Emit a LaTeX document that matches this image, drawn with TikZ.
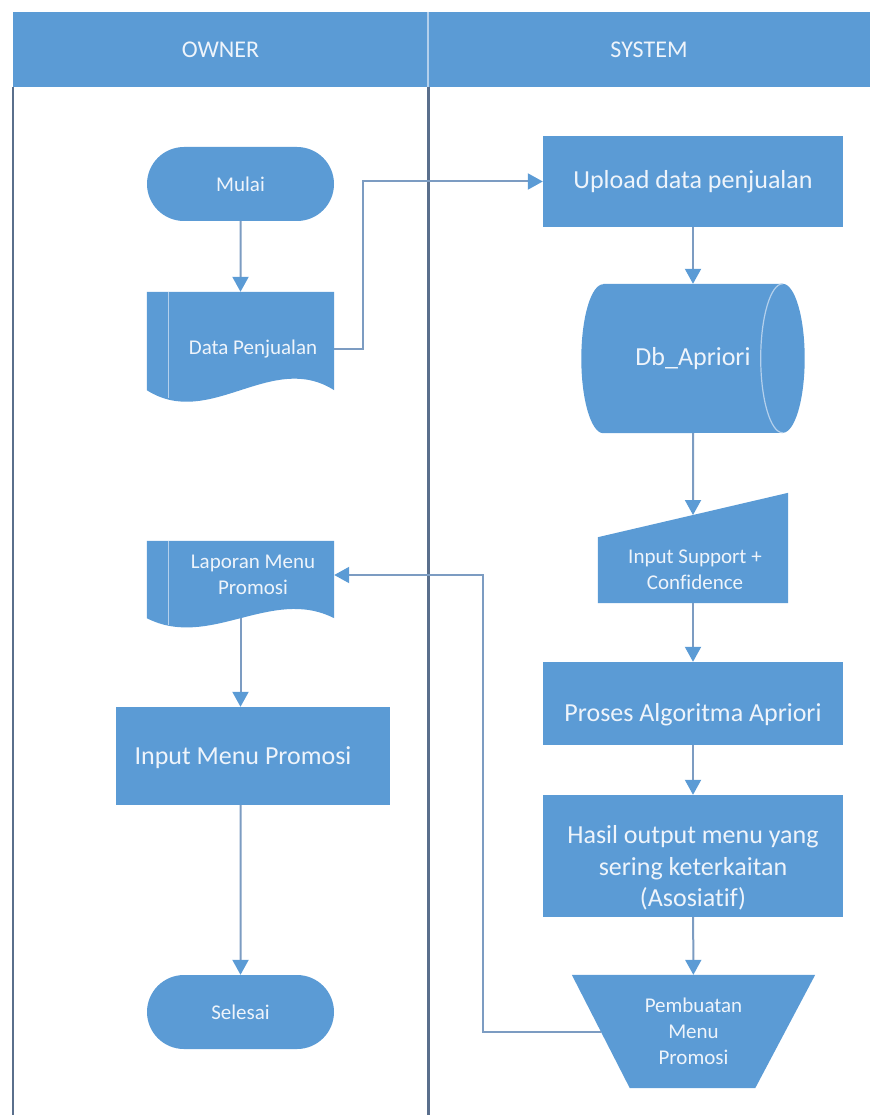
\documentclass[tikz,border=0pt]{standalone}
\usepackage{fontspec}
\setmainfont{Carlito}[Ligatures=NoCommon]
\usetikzlibrary{arrows.meta,calc,shapes.misc}

\definecolor{shapeblue}{HTML}{5B9BD5}
\definecolor{linkgrey}{HTML}{7C9CC2}
\definecolor{lanegrey}{HTML}{5A6F8C}
\definecolor{textwhite}{HTML}{EEF4FB}
\definecolor{stripeblue}{HTML}{B4D0EC}

\pgfdeclarelayer{shapes}
\pgfsetlayers{shapes,main}

% document symbol with a wavy lower edge and a left stripe, drawn around a frame node
\newcommand\docsymbol[2]{%
  \fill[shapeblue] (#1.north west) -- (#1.north east) -- (#1.south east)
    .. controls ($(#1.south east)+(-63,-#2)$) and ($(#1.south west)+(63,#2)$) .. (#1.south west) -- cycle;
  \draw[stripe] ($(#1.north west)+(22,0)$) -- ($(#1.south west)+(22,0.2*#2)$);
}

\begin{document}
\begin{tikzpicture}[x=1pt,y=-1pt,
  header/.style={rectangle, fill=shapeblue, inner sep=0pt, text=textwhite,
    font=\fontsize{24}{28}\selectfont},
  frame/.style={rectangle, inner sep=0pt},
  procbox/.style={rectangle, fill=shapeblue, inner sep=0pt, text=textwhite,
    align=center, font=\fontsize{26}{31.5}\selectfont},
  term/.style={rounded rectangle, fill=shapeblue, inner sep=0pt,
    minimum width=187pt, minimum height=74pt, text=textwhite,
    font=\fontsize{21}{26}\selectfont},
  biglbl/.style={text=textwhite, align=center, inner sep=0pt,
    font=\fontsize{26}{31.5}\selectfont},
  smalllbl/.style={text=textwhite, align=center, inner sep=0pt,
    font=\fontsize{21}{26}\selectfont},
  link/.style={draw=linkgrey, line width=2pt,
    -{Triangle[width=16pt,length=15pt,color=shapeblue]}},
  lane/.style={draw=lanegrey, line width=2.5pt},
  stripe/.style={draw=stripeblue, line width=1.2pt},
]
\useasboundingbox (0,0) rectangle (870,1115);

% swimlane headers and lane borders
\node[header, minimum width=415pt, minimum height=75pt] (hOwner) at (220.5,49.5) {OWNER};
\node[header, minimum width=442pt, minimum height=75pt] (hSystem) at (649,49.5) {SYSTEM};
\draw[stripeblue, line width=1.5pt] (hOwner.north east) -- (hOwner.south east);
\draw[lane] (hOwner.south west) -- (hOwner.south west |- 0,1115);
\draw[lane, line width=3pt] (hOwner.south east) -- (hOwner.south east |- 0,1115);

% owner lane
\node[term] (mulai) at (240.5,184) {Mulai};
\node[frame, minimum width=187pt, minimum height=98pt] (datap) at (240.5,341) {};
\node[smalllbl] (datapt) at (253,349) {Data Penjualan};
\node[frame, minimum width=187pt, minimum height=77pt] (lap) at (240.5,579.5) {};
\node[smalllbl] (lapt) at (253,575) {Laporan Menu\\Promosi};
\node[procbox, minimum width=274pt, minimum height=98pt] (inmenu) at (253,756) {};
\node[biglbl] (inmenut) at (243,758) {Input Menu Promosi};
\node[term] (selesai) at (240.5,1012) {Selesai};

% system lane
\node[procbox, minimum width=300pt, minimum height=91pt] (upload) at (693,181.5) {Upload data penjualan};
\node[frame, minimum width=223pt, minimum height=149pt, biglbl] (db) at (693,358.5) {Db\_Apriori};
\node[frame, minimum width=190pt, minimum height=110pt] (minp) at (693,548) {};
\coordinate (minpTL) at ($(minp.south west)+(0,-66)$);
\node[smalllbl] (minpt) at (695,570) {Input Support +\\Confidence};
\node[procbox, minimum width=300pt, minimum height=83pt] (proses) at (693,703.5) {};
\node[biglbl] (prosest) at (693,715) {Proses Algoritma Apriori};
\node[procbox, minimum width=300pt, minimum height=122pt] (hasil) at (693,856) {};
\node[biglbl] (hasilt) at (693,868) {Hasil output menu yang\\sering keterkaitan\\(Asosiatif)};
\node[frame, minimum width=243pt, minimum height=113pt, smalllbl] (pemb) at (693.5,1031.5) {Pembuatan\\Menu\\Promosi};

% symbol outlines behind the labels
\begin{pgfonlayer}{shapes}
  \docsymbol{datap}{40}
  \docsymbol{lap}{32}
  % direct access storage
  \fill[shapeblue] ($(db.north west)+(22,0)$) -- ($(db.north east)+(-22,0)$)
    arc[start angle=-90, end angle=90, x radius=22, y radius=74.5]
    -- ($(db.south west)+(22,0)$)
    arc[start angle=90, end angle=270, x radius=22, y radius=74.5] -- cycle;
  \draw[stripe] ($(db.north east)+(-22,0)$)
    arc[start angle=-90, end angle=-270, x radius=22, y radius=74.5];
  % manual input
  \fill[shapeblue] (minpTL) -- (minp.north east) -- (minp.south east) -- (minp.south west) -- cycle;
  % manual operation
  \fill[shapeblue] (pemb.north west) -- (pemb.north east)
    -- ($(pemb.south east)+(-60,0)$) -- ($(pemb.south west)+(58,0)$) -- cycle;
\end{pgfonlayer}

% flow
\coordinate (jogA) at (363,260);
\coordinate (jogB) at (483,800);
\draw[link] (mulai) -- (datap);
\draw[link] (datapt -| datap.east) -- (datapt -| jogA) |- (upload.west);
\draw[link] (upload) -- (db);
\draw[link] (db) -- ($(minpTL)!0.5!(minp.north east)$);
\draw[link] (minp) -- (proses);
\draw[link] (proses) -- (hasil);
\draw[link] (hasil) -- (pemb);
\draw[link] ($(pemb.west)+(29,0)$) -- (pemb.west -| jogB) |- (lapt -| lap.east);
\draw[link] (lap.south) -- (lap.south |- inmenu.north);
\draw[link] (lap.south |- inmenu.south) -- (selesai);
\end{tikzpicture}
\end{document}
